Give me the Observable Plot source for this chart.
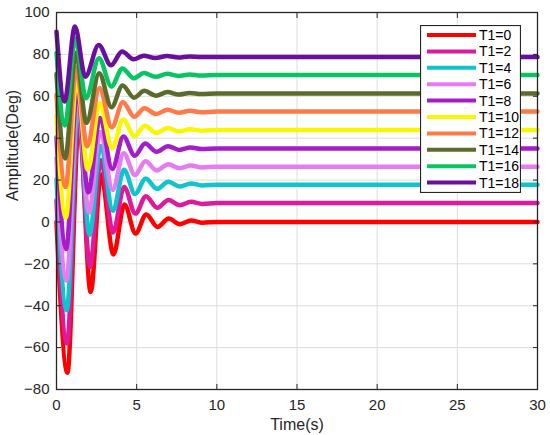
<!DOCTYPE html>
<html><head><meta charset="utf-8">
<script src="https://cdn.jsdelivr.net/npm/d3@7"></script>
<script src="https://cdn.jsdelivr.net/npm/@observablehq/plot@0.6"></script>
<style>
html,body{margin:0;padding:0;background:#fff;}
#wrap{position:relative;width:550px;height:435px;font-family:"Liberation Sans",Arial,sans-serif;}
#legend{position:absolute;left:420px;top:25px;}
</style></head>
<body><div id="wrap"></div>
<script>
// Legend labels and colours
const seriesLabels = ["T1=0","T1=2","T1=4","T1=6","T1=8","T1=10","T1=12","T1=14","T1=16","T1=18"];
const seriesColors = ["#ff0000","#dc1a9b","#0fc4cc","#e67cf2","#a31ec8","#f7f700","#ff7a48","#5b6b2b","#08c562","#6a0f9b"];

// Axis ticks
const xTicks = [0,5,10,15,20,25,30];
const yTicks = [-80,-60,-40,-20,0,20,40,60,80,100];

// Each curve: time of start, successive extrema, settle point, end (s) and amplitude (Deg)
const t_T1_0  = [0,0.68,1.40,2.13,2.78,3.55,4.24,4.93,5.60,6.30,7.00,7.70,8.40,9.10,10.0,30];
const y_T1_0  = [0,-72,48,-33.5,22.6,-15.5,8.3,-5.5,3.6,-2.4,1.6,-1.1,0.7,-0.4,0,0];
const t_T1_2  = [0,0.66,1.37,2.09,2.76,3.53,4.22,4.92,5.58,6.28,6.99,7.69,8.39,9.09,10.0,30];
const y_T1_2  = [10.3,-58,52,-21.5,29.5,-5,16.7,4,12.3,6.8,10.5,8,9.6,8.6,9,9];
const t_T1_4  = [0,0.64,1.34,2.06,2.75,3.52,4.21,4.90,5.56,6.27,6.98,7.68,8.38,9.08,10.0,30];
const y_T1_4  = [20.5,-42.2,55.8,-6.2,36.3,5.3,24.9,13.3,20.8,15.8,19.2,16.9,18.4,17.4,17.8,17.8];
const t_T1_6  = [0,0.62,1.32,2.02,2.73,3.50,4.19,4.89,5.55,6.25,6.97,7.67,8.37,9.07,10.0,30];
const y_T1_6  = [30.4,-28,59.4,4.4,42.9,15.3,32.8,22.4,29,24.6,27.6,25.6,26.9,26,26.4,26.4];
const t_T1_8  = [0,0.60,1.29,1.98,2.71,3.48,4.17,4.88,5.53,6.24,6.96,7.66,8.36,9.06,10.0,30];
const y_T1_8  = [40.4,-12.9,63.6,14.1,49.6,25.3,40.8,31.6,37.4,33.5,36.2,34.4,35.6,34.8,35.1,35.1];
const t_T1_10 = [0,0.58,1.26,1.95,2.70,3.47,4.16,4.86,5.51,6.23,6.94,7.64,8.34,9.04,10.0,30];
const y_T1_10 = [50.6,1.9,68.4,24.9,56.7,35.3,48.9,40.9,45.9,42.5,44.9,43.2,44.3,43.6,43.9,43.9];
const t_T1_12 = [0,0.56,1.23,1.91,2.68,3.45,4.14,4.85,5.49,6.21,6.93,7.63,8.33,9.03,10.0,30];
const y_T1_12 = [60.7,16.7,73.7,36.2,63.9,45.2,57.1,50.2,54.3,51.5,53.6,52.1,53.1,52.4,52.7,52.7];
const t_T1_14 = [0,0.54,1.21,1.87,2.66,3.43,4.12,4.84,5.48,6.20,6.92,7.62,8.32,9.02,10.0,30];
const y_T1_14 = [70.6,30.3,80.8,47.3,71.0,54.8,65.1,59.3,62.6,60.3,62,60.8,61.6,61.1,61.3,61.3];
const t_T1_16 = [0,0.52,1.18,1.84,2.65,3.42,4.11,4.82,5.46,6.18,6.91,7.61,8.31,9.01,10.0,30];
const y_T1_16 = [80.7,46.1,87.6,59.1,78.2,64.7,73.3,68.6,71.1,69.3,70.7,69.7,70.4,69.9,70.1,70.1];
const t_T1_18 = [0,0.50,1.15,1.80,2.63,3.40,4.09,4.81,5.44,6.16,6.90,7.60,8.30,9.00,10.0,30];
const y_T1_18 = [90.8,57.5,93.3,69.3,84.5,74.8,81.4,77.7,79.4,78.3,79.2,78.5,79,78.7,78.8,78.8];

const times = [t_T1_0,t_T1_2,t_T1_4,t_T1_6,t_T1_8,t_T1_10,t_T1_12,t_T1_14,t_T1_16,t_T1_18];
const amps  = [y_T1_0,y_T1_2,y_T1_4,y_T1_6,y_T1_8,y_T1_10,y_T1_12,y_T1_14,y_T1_16,y_T1_18];

const rows = [];
seriesLabels.forEach((s, i) => times[i].forEach((t, j) => rows.push({series: s, t, v: amps[i][j]})));

const font = "Liberation Sans, Arial, sans-serif";
const ink = "#262626";

const lineMarks = seriesLabels.map((s, i) =>
  Plot.line(rows.filter(d => d.series === s), {x: "t", y: "v", stroke: seriesColors[i], strokeWidth: 4.5, curve: "monotone-x"})
);

const chart = Plot.plot({
  width: 550, height: 435,
  marginLeft: 56, marginRight: 13, marginTop: 12, marginBottom: 46,
  style: {fontFamily: font, fontSize: "14px", color: ink, background: "#fff"},
  x: {domain: [0, 30]},
  y: {domain: [-80, 100]},
  marks: [
    Plot.gridX(xTicks, {stroke: "#dcdcdc", strokeOpacity: 1, strokeWidth: 1}),
    Plot.gridY(yTicks, {stroke: "#dcdcdc", strokeOpacity: 1, strokeWidth: 1}),
    ...lineMarks,
    Plot.frame({stroke: ink, strokeWidth: 1.3}),
    Plot.axisX(xTicks, {anchor: "bottom", tickSize: -5, tickPadding: 15, label: null, fontSize: 15}),
    Plot.axisX(xTicks, {anchor: "top", tickSize: -5, tickFormat: () => "", label: null}),
    Plot.axisY(yTicks, {anchor: "left", tickSize: -5, tickPadding: 12, label: null, fontSize: 15}),
    Plot.axisY(yTicks, {anchor: "right", tickSize: -5, tickFormat: () => "", label: null}),
    Plot.text(["Time(s)"], {frameAnchor: "bottom", dy: 40, fontSize: 16, fill: ink}),
    Plot.text(["Amplitude(Deg)"], {frameAnchor: "left", dx: -44, rotate: -90, fontSize: 16, fill: ink})
  ]
});
document.getElementById("wrap").appendChild(chart);

// Legend box overlay
const rowH = 16.4, lw = 101, lh = 168;
const leg = d3.select("#wrap").append("svg").attr("id", "legend")
  .attr("width", lw).attr("height", lh);
leg.append("rect").attr("x", 0.5).attr("y", 0.5).attr("width", lw - 1).attr("height", lh - 1)
  .attr("fill", "#fff").attr("stroke", ink).attr("stroke-width", 1.2);
const g = leg.selectAll("g").data(seriesLabels).join("g")
  .attr("transform", (d, i) => `translate(0,${10 + i * rowH})`);
g.append("line").attr("x1", 7).attr("x2", 56).attr("y1", 0).attr("y2", 0)
  .attr("stroke", (d, i) => seriesColors[i]).attr("stroke-width", 4);
g.append("text").attr("x", 59).attr("y", 0).attr("dy", "0.36em")
  .attr("font-family", font).attr("font-size", 14).attr("fill", "#000").text(d => d);
</script>
</body></html>
